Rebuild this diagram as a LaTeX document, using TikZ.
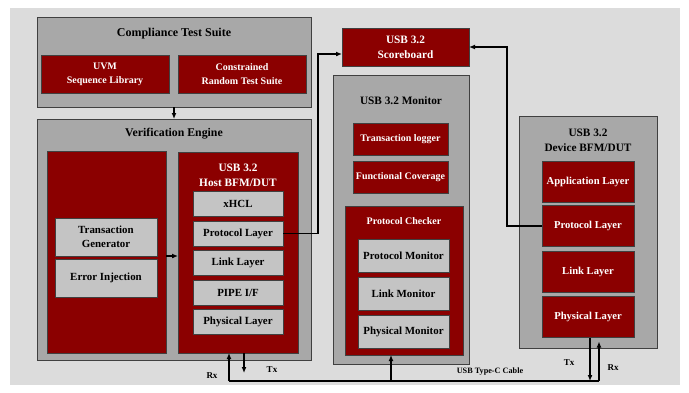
\documentclass[tikz,border=0pt]{standalone}
\usepackage{fontspec}
\setmainfont{Liberation Serif}
\usetikzlibrary{positioning,arrows.meta}
\definecolor{bgray}{HTML}{DCDCDC}
\definecolor{cgray}{HTML}{A8A8A8}
\definecolor{lgray}{HTML}{C4C4C4}
\definecolor{dred}{HTML}{8B0000}

\begin{document}
\begin{tikzpicture}[x=1pt, y=-1pt,
  frame/.style={draw=black!75, fill=cgray, line width=0.9pt, inner sep=0pt, outer sep=0pt},
  redbox/.style={draw=black!75, fill=dred, line width=0.9pt, inner sep=0pt, outer sep=0pt, text=white, align=center, font=\bfseries\fontsize{10.6}{14}\selectfont},
  greybox/.style={draw=black!75, fill=lgray, line width=0.9pt, inner sep=0pt, outer sep=0pt, align=center, font=\bfseries\fontsize{10.9}{14}\selectfont},
  title/.style={align=center, font=\bfseries\fontsize{11.3}{15}\selectfont},
  tag/.style={font=\bfseries\fontsize{9}{10}\selectfont},
  link/.style={line width=1.3pt},
  arrow/.style={-{Latex[length=6pt,width=5pt]}, line width=1.3pt}
]
  % Fundo e margens
  \fill[bgray] (10,8) rectangle (680,385);
  \useasboundingbox (0,0) rectangle (689,392);

  % Compliance Test Suite
  \node[frame, minimum width=274pt, minimum height=90pt] (cts) at (174,62) {};
  \node[title, font=\bfseries\fontsize{12}{15}\selectfont] (ctst) at (174,34) {Compliance Test Suite};
  \node[redbox, minimum width=128pt, minimum height=38pt, font=\bfseries\fontsize{10}{14}\selectfont] (uvm)  at (105,74) {UVM\\Sequence Library};
  \node[redbox, minimum width=128pt, minimum height=38pt, font=\bfseries\fontsize{10}{14}\selectfont] (crts) at (242,74) {Constrained\\Random Test Suite};

  % Verification Engine
  \node[frame, minimum width=274pt, minimum height=241pt] (ve) at (174,239.5) {};
  \node[title, font=\bfseries\fontsize{11.8}{15}\selectfont] (vet) at (174,134) {Verification Engine};
  \node[redbox, minimum width=119pt, minimum height=202pt] (genp) at (106.5,252) {};
  \node[greybox, minimum width=102pt, minimum height=38pt] (tgen) at (106,237) {Transaction\\Generator};
  \node[greybox, minimum width=102pt, minimum height=38pt] (einj) at (106,278) {Error Injection};

  % Host BFM/DUT
  \node[redbox, minimum width=120pt, minimum height=201pt] (host) at (238,252.5) {};
  \node[title, text=white] (hostt) at (238,175) {USB 3.2\\Host BFM/DUT};
  \node[greybox, minimum width=90pt, minimum height=25pt] (xhcl)  at (238,204) {xHCL};
  \node[greybox, minimum width=90pt, minimum height=25pt] (hprot) at (238,233.5) {Protocol Layer};
  \node[greybox, minimum width=90pt, minimum height=25pt] (hlink) at (238,263) {Link Layer};
  \node[greybox, minimum width=90pt, minimum height=25pt] (pipe)  at (238,292.5) {PIPE I/F};
  \node[greybox, minimum width=90pt, minimum height=25pt] (hphy)  at (238,322) {Physical Layer};

  % Scoreboard
  \node[redbox, minimum width=127pt, minimum height=38pt, font=\bfseries\fontsize{11.3}{15}\selectfont] (sb) at (405.5,47) {USB 3.2\\Scoreboard};

  % Monitor
  \node[frame, minimum width=136pt, minimum height=289pt] (mon) at (401,219.5) {};
  \node[title] (mont) at (401,101) {USB 3.2 Monitor};
  \node[redbox, minimum width=95pt, minimum height=32pt, font=\bfseries\fontsize{10}{14}\selectfont] (tlog) at (400.5,139) {Transaction logger};
  \node[redbox, minimum width=95pt, minimum height=32pt, font=\bfseries\fontsize{10}{14}\selectfont] (fcov) at (400.5,177) {Functional Coverage};
  \node[redbox, minimum width=118pt, minimum height=149pt] (pchk) at (404,280.5) {};
  \node[title, text=white, font=\bfseries\fontsize{10}{14}\selectfont] (pchkt) at (404,221) {Protocol Checker};
  \node[greybox, minimum width=91pt, minimum height=33pt] (pmon)  at (403.5,255.5) {Protocol Monitor};
  \node[greybox, minimum width=91pt, minimum height=33pt] (lmon)  at (403.5,293.5) {Link Monitor};
  \node[greybox, minimum width=91pt, minimum height=33pt] (phmon) at (403.5,331.5) {Physical Monitor};

  % Device BFM/DUT
  \node[frame, minimum width=138pt, minimum height=232pt] (dev) at (588,232) {};
  \node[title] (devt) at (588,140) {USB 3.2\\Device BFM/DUT};
  \node[redbox, minimum width=92pt, minimum height=41pt] (app)   at (588,181.5) {Application Layer};
  \node[redbox, minimum width=92pt, minimum height=41pt] (dprot) at (588,226) {Protocol Layer};
  \node[redbox, minimum width=92pt, minimum height=41pt] (dlink) at (588,272) {Link Layer};
  \node[redbox, minimum width=92pt, minimum height=41pt] (dphy)  at (588,317) {Physical Layer};

  % Ligacoes
  \draw[arrow] (cts.south) -- (ve.north);
  \draw[arrow] (tgen.south -| genp.east) -- (tgen.south -| host.west);
  \draw[arrow] (hprot.east) -- ++(35pt,0) |- ([yshift=-7pt]sb.west);
  \draw[arrow] (dprot.west) -- ++(-35pt,0) |- (sb.east);

  % Cabo USB Type-C
  \coordinate (cabl) at (229,381);
  \coordinate (cabr) at (599,381);
  \coordinate (htx)  at (244,373);
  \coordinate (mtap) at (391,381);
  \coordinate (dtx)  at (590,381);
  \draw[link] (cabl) -- (cabr);
  \draw[arrow] (cabl) -- (cabl |- host.south);
  \draw[arrow] (htx |- host.south) -- (htx);
  \draw[arrow] (mtap) -- (mtap |- pchk.south);
  \draw[arrow] (dtx |- dphy.south) -- (dtx);
  \draw[arrow] (cabr) -- ([yshift=-4pt]cabr |- dphy.south);

  % Rotulos
  \node[tag] (hrx)  at (212,376) {Rx};
  \node[tag] (htxl) at (272,370) {Tx};
  \node[tag, font=\bfseries\fontsize{8.2}{9}\selectfont] (cable) at (490,372) {USB Type-C Cable};
  \node[tag] (dtxl) at (569,363) {Tx};
  \node[tag] (drx)  at (613,368) {Rx};
\end{tikzpicture}
\end{document}
